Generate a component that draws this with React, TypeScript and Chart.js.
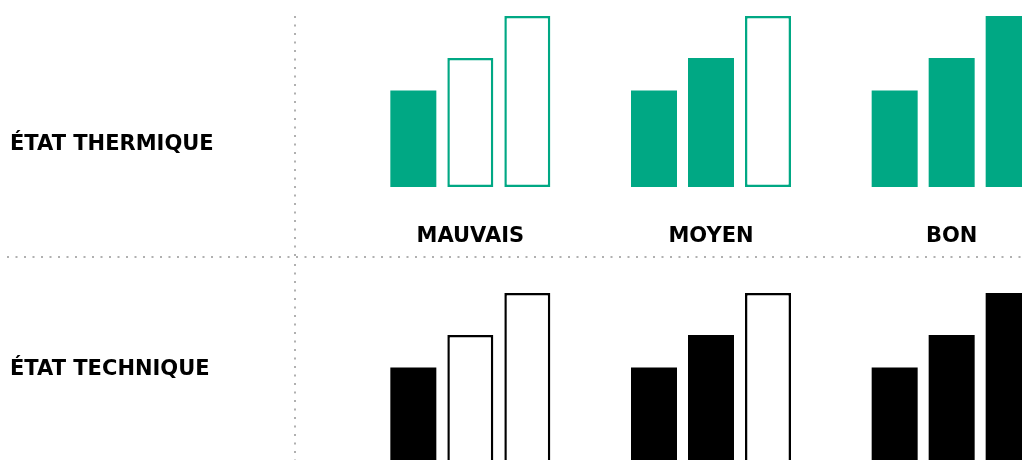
import React, { useEffect, useRef } from "react";
import { Chart, registerables } from "chart.js";

Chart.register(...registerables);

// ---- data ----
const categories = ["MAUVAIS", "MOYEN", "BON"];
const levelValues = [56.5, 75.5, 100]; // relative height of the 3 bars in each group
const filledLevels = [1, 2, 3]; // how many bars are filled in each category
const rowLabels = ["ÉTAT THERMIQUE", "ÉTAT TECHNIQUE"];
const rowColors = ["#00A884", "#000000"];

const FONT = "'DejaVu Sans'";
const WEIGHT = "bold";
const SIZE = 21;
const DOT = "#b0b0b0";

function dotted(ctx: CanvasRenderingContext2D, x1: number, y1: number, x2: number, y2: number) {
  ctx.save();
  ctx.strokeStyle = DOT;
  ctx.lineWidth = 2;
  ctx.setLineDash([2, 6.5]);
  ctx.beginPath();
  ctx.moveTo(x1, y1);
  ctx.lineTo(x2, y2);
  ctx.stroke();
  ctx.restore();
}

function buildDatasets(color: string) {
  return levelValues.map((v, i) => ({
    label: "niveau " + (i + 1),
    data: categories.map(() => v),
    backgroundColor: categories.map((_, c) => (i < filledLevels[c] ? color : "#ffffff")),
    borderColor: color,
    borderWidth: categories.map((_, c) => (i < filledLevels[c] ? 0 : 2.5)),
    borderSkipped: false as const,
    categoryPercentage: 0.7105,
    barPercentage: 0.807,
  }));
}

function makeDeco(row: number) {
  return {
    id: "deco" + row,
    beforeDraw(chart: any) {
      const ctx: CanvasRenderingContext2D = chart.ctx;
      const h = chart.height;
      if (row === 0) {
        dotted(ctx, 295, 16, 295, h);
        dotted(ctx, 7, 257, 1022, 257);
      } else {
        dotted(ctx, 295, 4, 295, h);
      }
      ctx.save();
      ctx.fillStyle = "#000";
      ctx.font = `${WEIGHT} ${SIZE}px ${FONT}`;
      ctx.textBaseline = "alphabetic";
      ctx.textAlign = "left";
      ctx.fillText(rowLabels[row], 10, row === 0 ? 149.5 : 374.5 - 260);
      ctx.restore();
    },
  };
}

function RowChart({ row }: { row: number }) {
  const ref = useRef<HTMLCanvasElement | null>(null);
  useEffect(() => {
    if (!ref.current) return;
    const top = row === 0;
    const chart = new Chart(ref.current, {
      type: "bar",
      data: { labels: categories, datasets: buildDatasets(rowColors[row]) as any },
      options: {
        animation: false,
        responsive: false,
        maintainAspectRatio: false,
        layout: { padding: top ? { left: 350, right: 8, top: 16, bottom: 0 } : { left: 350, right: 8, top: 33, bottom: 16 } },
        plugins: { legend: { display: false }, tooltip: { enabled: false } },
        scales: {
          x: {
            display: top,
            grid: { display: false, drawTicks: false },
            border: { display: false },
            ticks: { color: "#000", font: { family: "DejaVu Sans", weight: WEIGHT as any, size: SIZE }, padding: 37 },
            afterFit: (s: any) => {
              if (top) s.height = 73;
            },
          },
          y: { display: false, min: 0, max: 100 },
        },
      },
      plugins: [makeDeco(row)],
    });
    return () => chart.destroy();
  }, [row]);
  return (
    <canvas
      ref={ref}
      width={1080}
      height={row === 0 ? 260 : 220}
      style={{ position: "absolute", left: 0, top: row === 0 ? 0 : 260, display: "block" }}
    />
  );
}

export default function App() {
  return (
    <div
      style={{
        position: "fixed",
        left: 0,
        top: 0,
        width: 1022,
        height: 460,
        overflow: "hidden",
        background: "#fff",
      }}
    >
      <RowChart row={0} />
      <RowChart row={1} />
    </div>
  );
}
